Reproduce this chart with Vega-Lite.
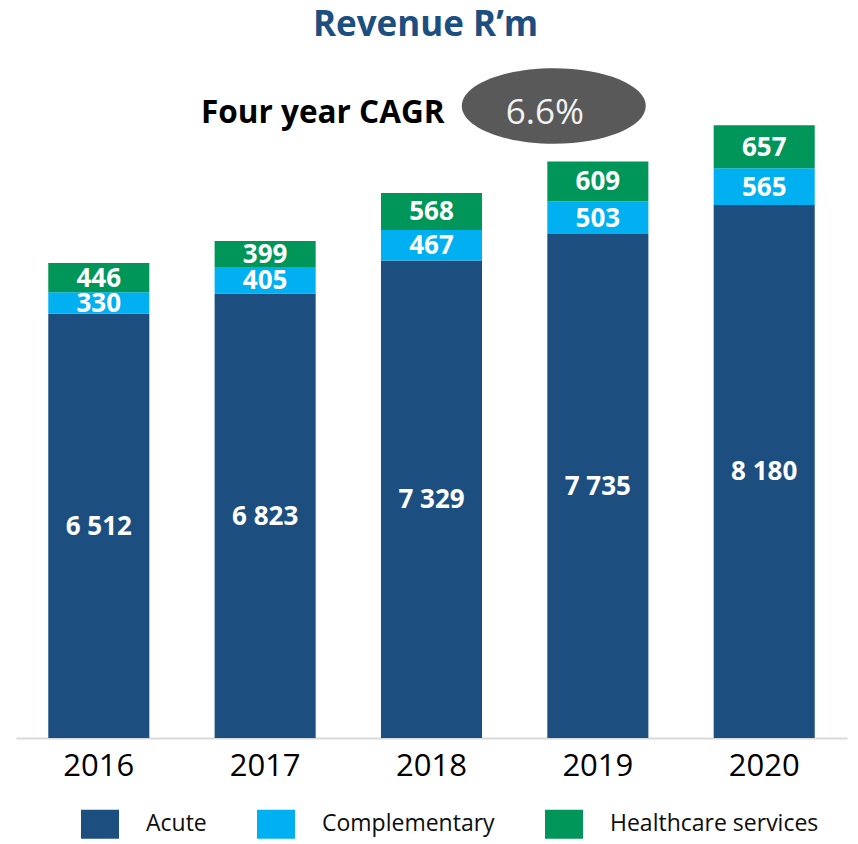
{
  "$schema": "https://vega.github.io/schema/vega-lite/v6.json",
  "autosize": {"type": "none"},
  "width": 831,
  "height": 678,
  "padding": {"left": 16, "right": 11, "top": 60, "bottom": 106},
  "background": "white",
  "title": {
    "text": "Revenue R’m",
    "font": "Open Sans",
    "fontSize": 35,
    "fontWeight": "bold",
    "color": "#1C4E80",
    "anchor": "middle",
    "baseline": "alphabetic",
    "dx": -6,
    "offset": -11
  },
  "datasets": {
    "revenue": [
      {"year": "2016", "segment": "Acute", "value": 6512},
      {"year": "2016", "segment": "Complementary", "value": 330},
      {"year": "2016", "segment": "Healthcare services", "value": 446},
      {"year": "2017", "segment": "Acute", "value": 6823},
      {"year": "2017", "segment": "Complementary", "value": 405},
      {"year": "2017", "segment": "Healthcare services", "value": 399},
      {"year": "2018", "segment": "Acute", "value": 7329},
      {"year": "2018", "segment": "Complementary", "value": 467},
      {"year": "2018", "segment": "Healthcare services", "value": 568},
      {"year": "2019", "segment": "Acute", "value": 7735},
      {"year": "2019", "segment": "Complementary", "value": 503},
      {"year": "2019", "segment": "Healthcare services", "value": 609},
      {"year": "2020", "segment": "Acute", "value": 8180},
      {"year": "2020", "segment": "Complementary", "value": 565},
      {"year": "2020", "segment": "Healthcare services", "value": 657}
    ],
    "cagr": [{"label": "Four year CAGR", "rate": "6.6%"}]
  },
  "layer": [
    {
      "data": {"name": "revenue"},
      "transform": [
        {"stack": "value", "groupby": ["year"], "sort": [{"field": "segment", "order": "ascending"}], "as": ["v0", "v1"]}
      ],
      "mark": {"type": "bar"},
      "encoding": {
        "x": {
          "field": "year", "type": "nominal",
          "scale": {"paddingInner": 0.3925, "paddingOuter": 0.194},
          "axis": {
            "title": null, "labelAngle": 0, "ticks": false,
            "labelFont": "Open Sans", "labelFontSize": 31, "labelColor": "#000000",
            "labelPadding": 13, "domainColor": "#D9D9D9", "domainWidth": 2
          }
        },
        "y": {
          "field": "v1", "type": "quantitative",
          "scale": {"domain": [0, 10405], "nice": false, "zero": true},
          "axis": null
        },
        "y2": {"field": "v0"},
        "color": {
          "field": "segment", "type": "nominal",
          "scale": {"domain": ["Acute", "Complementary", "Healthcare services"], "range": ["#1C4F80", "#00B0F0", "#00965A"]},
          "legend": {
            "title": null, "orient": "none", "direction": "horizontal",
            "legendX": 65, "legendY": 745,
            "symbolType": "M-1,-0.763H1V0.763H-1Z", "symbolSize": 1444,
            "symbolStrokeWidth": 0, "symbolOpacity": 1,
            "labelFont": "Open Sans", "labelFontSize": 23, "labelColor": "#0D0D0D",
            "labelOffset": 27, "columnPadding": 50, "labelLimit": 400
          }
        }
      }
    },
    {
      "data": {"name": "revenue"},
      "transform": [
        {"stack": "value", "groupby": ["year"], "sort": [{"field": "segment", "order": "ascending"}], "as": ["v0", "v1"]},
        {"calculate": "(datum.v0 + datum.v1) / 2", "as": "mid"}
      ],
      "mark": {"type": "text", "color": "white", "font": "Open Sans", "fontSize": 26, "fontWeight": "bold", "baseline": "middle", "align": "center", "dy": 1},
      "encoding": {
        "x": {"field": "year", "type": "nominal"},
        "y": {"field": "mid", "type": "quantitative"},
        "text": {"field": "value", "type": "quantitative", "format": ","}
      }
    },
    {
      "data": {"name": "cagr"},
      "mark": {"type": "point", "shape": "M-1,0A1,0.41 0 1,1 1,0A1,0.41 0 1,1 -1,0Z", "size": 33856, "filled": true, "color": "#595959", "opacity": 1, "strokeWidth": 0},
      "encoding": {
        "x": {"datum": "2019", "type": "nominal", "bandPosition": 0.064},
        "y": {"datum": 9700, "type": "quantitative"}
      }
    },
    {
      "data": {"name": "cagr"},
      "mark": {"type": "text", "color": "#F2F2F2", "font": "Open Sans", "fontSize": 35, "align": "center", "baseline": "alphabetic", "dx": -53},
      "encoding": {
        "x": {"datum": "2019", "type": "nominal"},
        "y": {"datum": 9423, "type": "quantitative"},
        "text": {"field": "rate"}
      }
    },
    {
      "data": {"name": "cagr"},
      "mark": {"type": "text", "color": "#000000", "font": "Open Sans", "fontSize": 31.5, "fontWeight": "bold", "align": "right", "baseline": "alphabetic", "dx": 13},
      "encoding": {
        "x": {"datum": "2018", "type": "nominal"},
        "y": {"datum": 9438, "type": "quantitative"},
        "text": {"field": "label"}
      }
    }
  ],
  "config": {
    "font": "Open Sans",
    "view": {"stroke": null},
    "locale": {"number": {"decimal": ".", "thousands": " ", "grouping": [3], "currency": ["", ""]}}
  }
}
